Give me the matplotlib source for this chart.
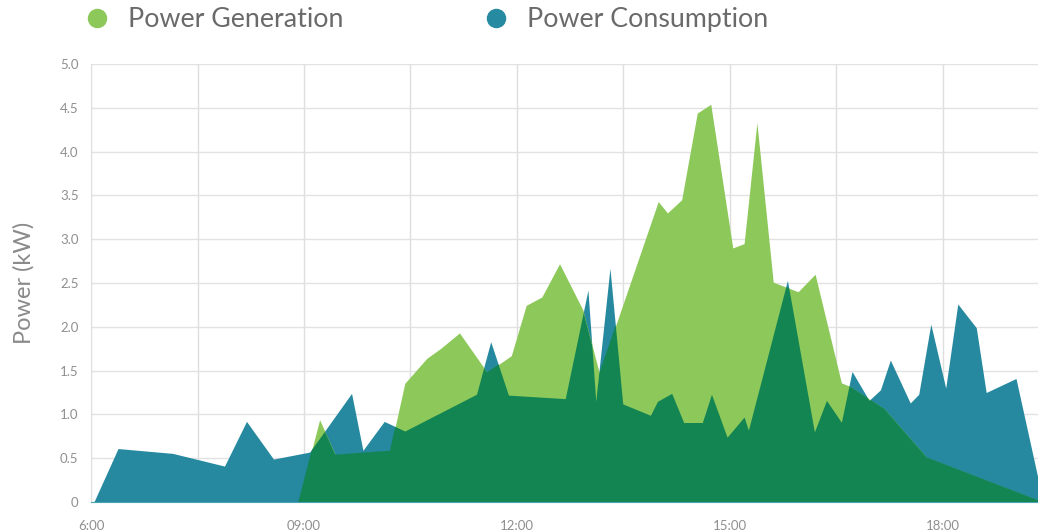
import matplotlib.pyplot as plt
from matplotlib.lines import Line2D
from matplotlib.ticker import MultipleLocator

plt.rcParams.update({
    "font.family": ["Lato", "DejaVu Sans"],
    "axes.edgecolor": "#dddddd",
})

# hours of day
gen_t = [6.04, 8.92, 9.22, 9.44, 10.21, 10.42, 10.73, 10.92, 11.19, 11.58,
         11.92, 12.13, 12.35, 12.60, 12.93, 13.16, 13.99, 14.12, 14.32, 14.54,
         14.73, 15.04, 15.20, 15.38, 15.61, 15.96, 16.20, 16.57, 16.69, 17.18,
         17.77, 19.34]
gen_kw = [0.0, 0.0, 0.94, 0.54, 0.585, 1.355, 1.64, 1.75, 1.93, 1.48,
          1.67, 2.245, 2.34, 2.72, 2.19, 1.47, 3.43, 3.30, 3.45, 4.44,
          4.54, 2.90, 2.95, 4.33, 2.51, 2.40, 2.60, 1.36, 1.32, 1.06,
          0.51, 0.02]

use_t = [6.04, 6.38, 7.15, 7.88, 8.19, 8.57, 9.08, 9.67, 9.83, 10.13,
         10.42, 11.43, 11.63, 11.88, 12.68, 13.00, 13.11, 13.31, 13.49, 13.88,
         13.98, 14.18, 14.35, 14.61, 14.74, 14.96, 15.20, 15.26, 15.81, 16.19,
         16.36, 16.57, 16.72, 16.96, 17.12, 17.26, 17.54, 17.66, 17.83, 18.04,
         18.21, 18.47, 18.61, 19.03, 19.34]
use_kw = [0.0, 0.61, 0.555, 0.41, 0.92, 0.49, 0.57, 1.24, 0.59, 0.92,
          0.81, 1.23, 1.83, 1.22, 1.18, 2.42, 1.15, 2.67, 1.12, 0.99,
          1.15, 1.24, 0.905, 0.905, 1.23, 0.74, 0.97, 0.82, 2.53, 0.80,
          1.16, 0.91, 1.49, 1.16, 1.28, 1.62, 1.13, 1.23, 2.03, 1.30,
          2.26, 1.99, 1.25, 1.41, 0.27]

x_ticks = [6, 9, 12, 15, 18]
x_labels = ["6:00", "09:00", "12:00", "15:00", "18:00"]
y_ticks = [0, 0.5, 1.0, 1.5, 2.0, 2.5, 3.0, 3.5, 4.0, 4.5, 5.0]
y_labels = ["0", "0.5", "1.0", "1.5", "2.0", "2.5", "3.0", "3.5", "4.0", "4.5", "5.0"]

GREEN = "#8dc85a"
BLUE = "#1f859c"
DARK = "#0f8352"

fig = plt.figure(figsize=(10.38, 5.32), dpi=100)
ax = fig.add_axes([0.0877, 0.0564, 0.9123, 0.8233])

ax.fill_between(use_t, use_kw, 0, color=BLUE, alpha=0.97, lw=0, zorder=2)
gen_fill = ax.fill_between(gen_t, gen_kw, 0, color=GREEN, lw=0, zorder=3)
# overlap: consumption area clipped to the generation area
overlap = ax.fill_between(use_t, use_kw, 0, color=DARK, alpha=0.97, lw=0, zorder=4)
overlap.set_clip_path(gen_fill.get_paths()[0], gen_fill.get_transform())

ax.set_xlim(6, 19.34)
ax.set_ylim(0, 5.0)
ax.set_xticks(x_ticks)
ax.set_xticklabels(x_labels)
ax.xaxis.set_minor_locator(MultipleLocator(1.5))
ax.set_yticks(y_ticks)
ax.set_yticklabels(y_labels)

ax.grid(True, which="both", axis="x", color="#dedede", lw=1, zorder=1)
ax.grid(True, which="major", axis="y", color="#e2e2e2", lw=1, zorder=1)
ax.set_axisbelow(True)

for s in ["top", "right"]:
    ax.spines[s].set_visible(False)
ax.spines["left"].set_color("#e0e0e0")
ax.spines["bottom"].set_color("#4aa3b0")
ax.spines["bottom"].set_linewidth(0.8)
ax.spines["bottom"].set_zorder(5)

ax.tick_params(axis="both", which="both", length=0, colors="#8f8f8f")
ax.tick_params(axis="y", labelsize=9.5, pad=9)
ax.tick_params(axis="x", labelsize=9.5, pad=13)

ax.set_ylabel("Power (kW)", fontsize=17, color="#8a8a8a", labelpad=18)

handles = [
    Line2D([], [], marker="o", ls="none", ms=13, color=GREEN, label="Power Generation"),
    Line2D([], [], marker="o", ls="none", ms=13, color="#268aa0", label="Power Consumption"),
]
fig.legend(handles=handles, loc="center left", bbox_to_anchor=(0.05, 0.963),
           ncol=2, frameon=False, handletextpad=0.4, handlelength=1.55,
           columnspacing=4.9, labelcolor="#6a6a6a",
           prop={"size": 19.3})

fig.savefig("out.png", dpi=100)
